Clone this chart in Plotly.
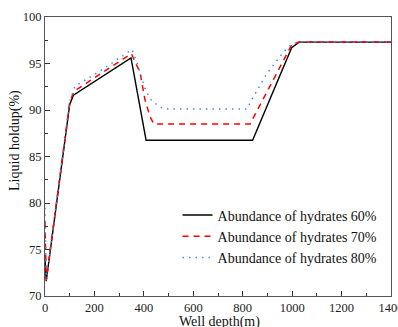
import plotly.graph_objects as go

# Series data
depth_60 = [0, 5, 100, 115, 348, 409, 840, 998, 1028, 1400]
hold_60 = [74.0, 71.6, 90.6, 91.6, 95.6, 86.75, 86.75, 96.7, 97.3, 97.3]

depth_70 = [0, 5, 100, 117, 340, 350, 364, 384, 405, 425, 440, 830, 998, 1028, 1400]
hold_70 = [78.0, 71.7, 90.8, 92.0, 95.9, 96.05, 95.2, 94.1, 91.05, 89.3, 88.5, 88.5, 97.0, 97.3, 97.3]

depth_80 = [0, 5, 100, 121, 223, 290, 352, 371, 405, 425, 465, 500, 816, 843, 897, 964, 998, 1028, 1400]
hold_80 = [79.5, 71.7, 90.9, 92.55, 94.2, 95.35, 96.5, 95.2, 92.3, 91.2, 90.3, 90.1, 90.1, 91.4, 93.9, 96.2, 97.1, 97.3, 97.3]

series_names = ["Abundance of hydrates 60%", "Abundance of hydrates 70%", "Abundance of hydrates 80%"]
x_ticks = [0, 200, 400, 600, 800, 1000, 1200, 1400]
y_ticks = [70, 75, 80, 85, 90, 95, 100]

FONT = "Liberation Serif, Times New Roman, serif"

fig = go.Figure()
fig.add_trace(go.Scatter(x=depth_60, y=hold_60, mode="lines", name=series_names[0],
                         line=dict(color="black", width=1.4)))
fig.add_trace(go.Scatter(x=depth_70, y=hold_70, mode="lines", name=series_names[1],
                         line=dict(color="#ff0000", width=1.5, dash="6px,5px")))
fig.add_trace(go.Scatter(x=depth_80, y=hold_80, mode="lines", name=series_names[2],
                         line=dict(color="#3a8ef0", width=1.5, dash="1.5px,5px")))

axis_common = dict(showgrid=False, zeroline=False, showline=True, linecolor="#555",
                   linewidth=1, mirror=True, ticks="inside", ticklen=5, tickcolor="#333",
                   automargin=False, ticklabeloverflow="allow",
                   tickfont=dict(family=FONT, size=12.5, color="#222"))

fig.update_xaxes(range=[0, 1400], tickvals=x_ticks, ticktext=[str(v) for v in x_ticks],
                 minor=dict(dtick=100, ticks="inside", ticklen=3, tickcolor="#333"),
                 **axis_common)
fig.update_yaxes(range=[70, 100], tickvals=y_ticks, ticktext=[str(v) for v in y_ticks],
                 minor=dict(dtick=2.5, ticks="inside", ticklen=3, tickcolor="#333"),
                 **axis_common)

fig.add_annotation(text="Liquid holdup(%)", textangle=-90, xref="paper", yref="paper",
                   x=-0.087, y=0.559, xanchor="center", yanchor="middle", showarrow=False,
                   font=dict(family=FONT, size=14, color="#111"))
fig.add_annotation(text="Well depth(m)", xref="paper", yref="paper",
                   x=0.505, y=-0.092, xanchor="center", yanchor="middle", showarrow=False,
                   font=dict(family=FONT, size=14, color="#111"))

fig.update_layout(
    width=398, height=327,
    margin=dict(l=45, r=7, t=17, b=31, autoexpand=False),
    plot_bgcolor="white", paper_bgcolor="white",
    font=dict(family=FONT, size=12, color="#111"),
    legend=dict(x=0.383, y=0.346, xanchor="left", yanchor="top", bgcolor="rgba(0,0,0,0)",
                font=dict(family=FONT, size=14, color="#111"), tracegroupgap=0,
                itemwidth=30),
    showlegend=True,
)

fig.write_html("out.html",
               config={"displayModeBar": False},
               post_script="document.body.style.margin='0';"
                           "document.documentElement.style.overflow='hidden';")
